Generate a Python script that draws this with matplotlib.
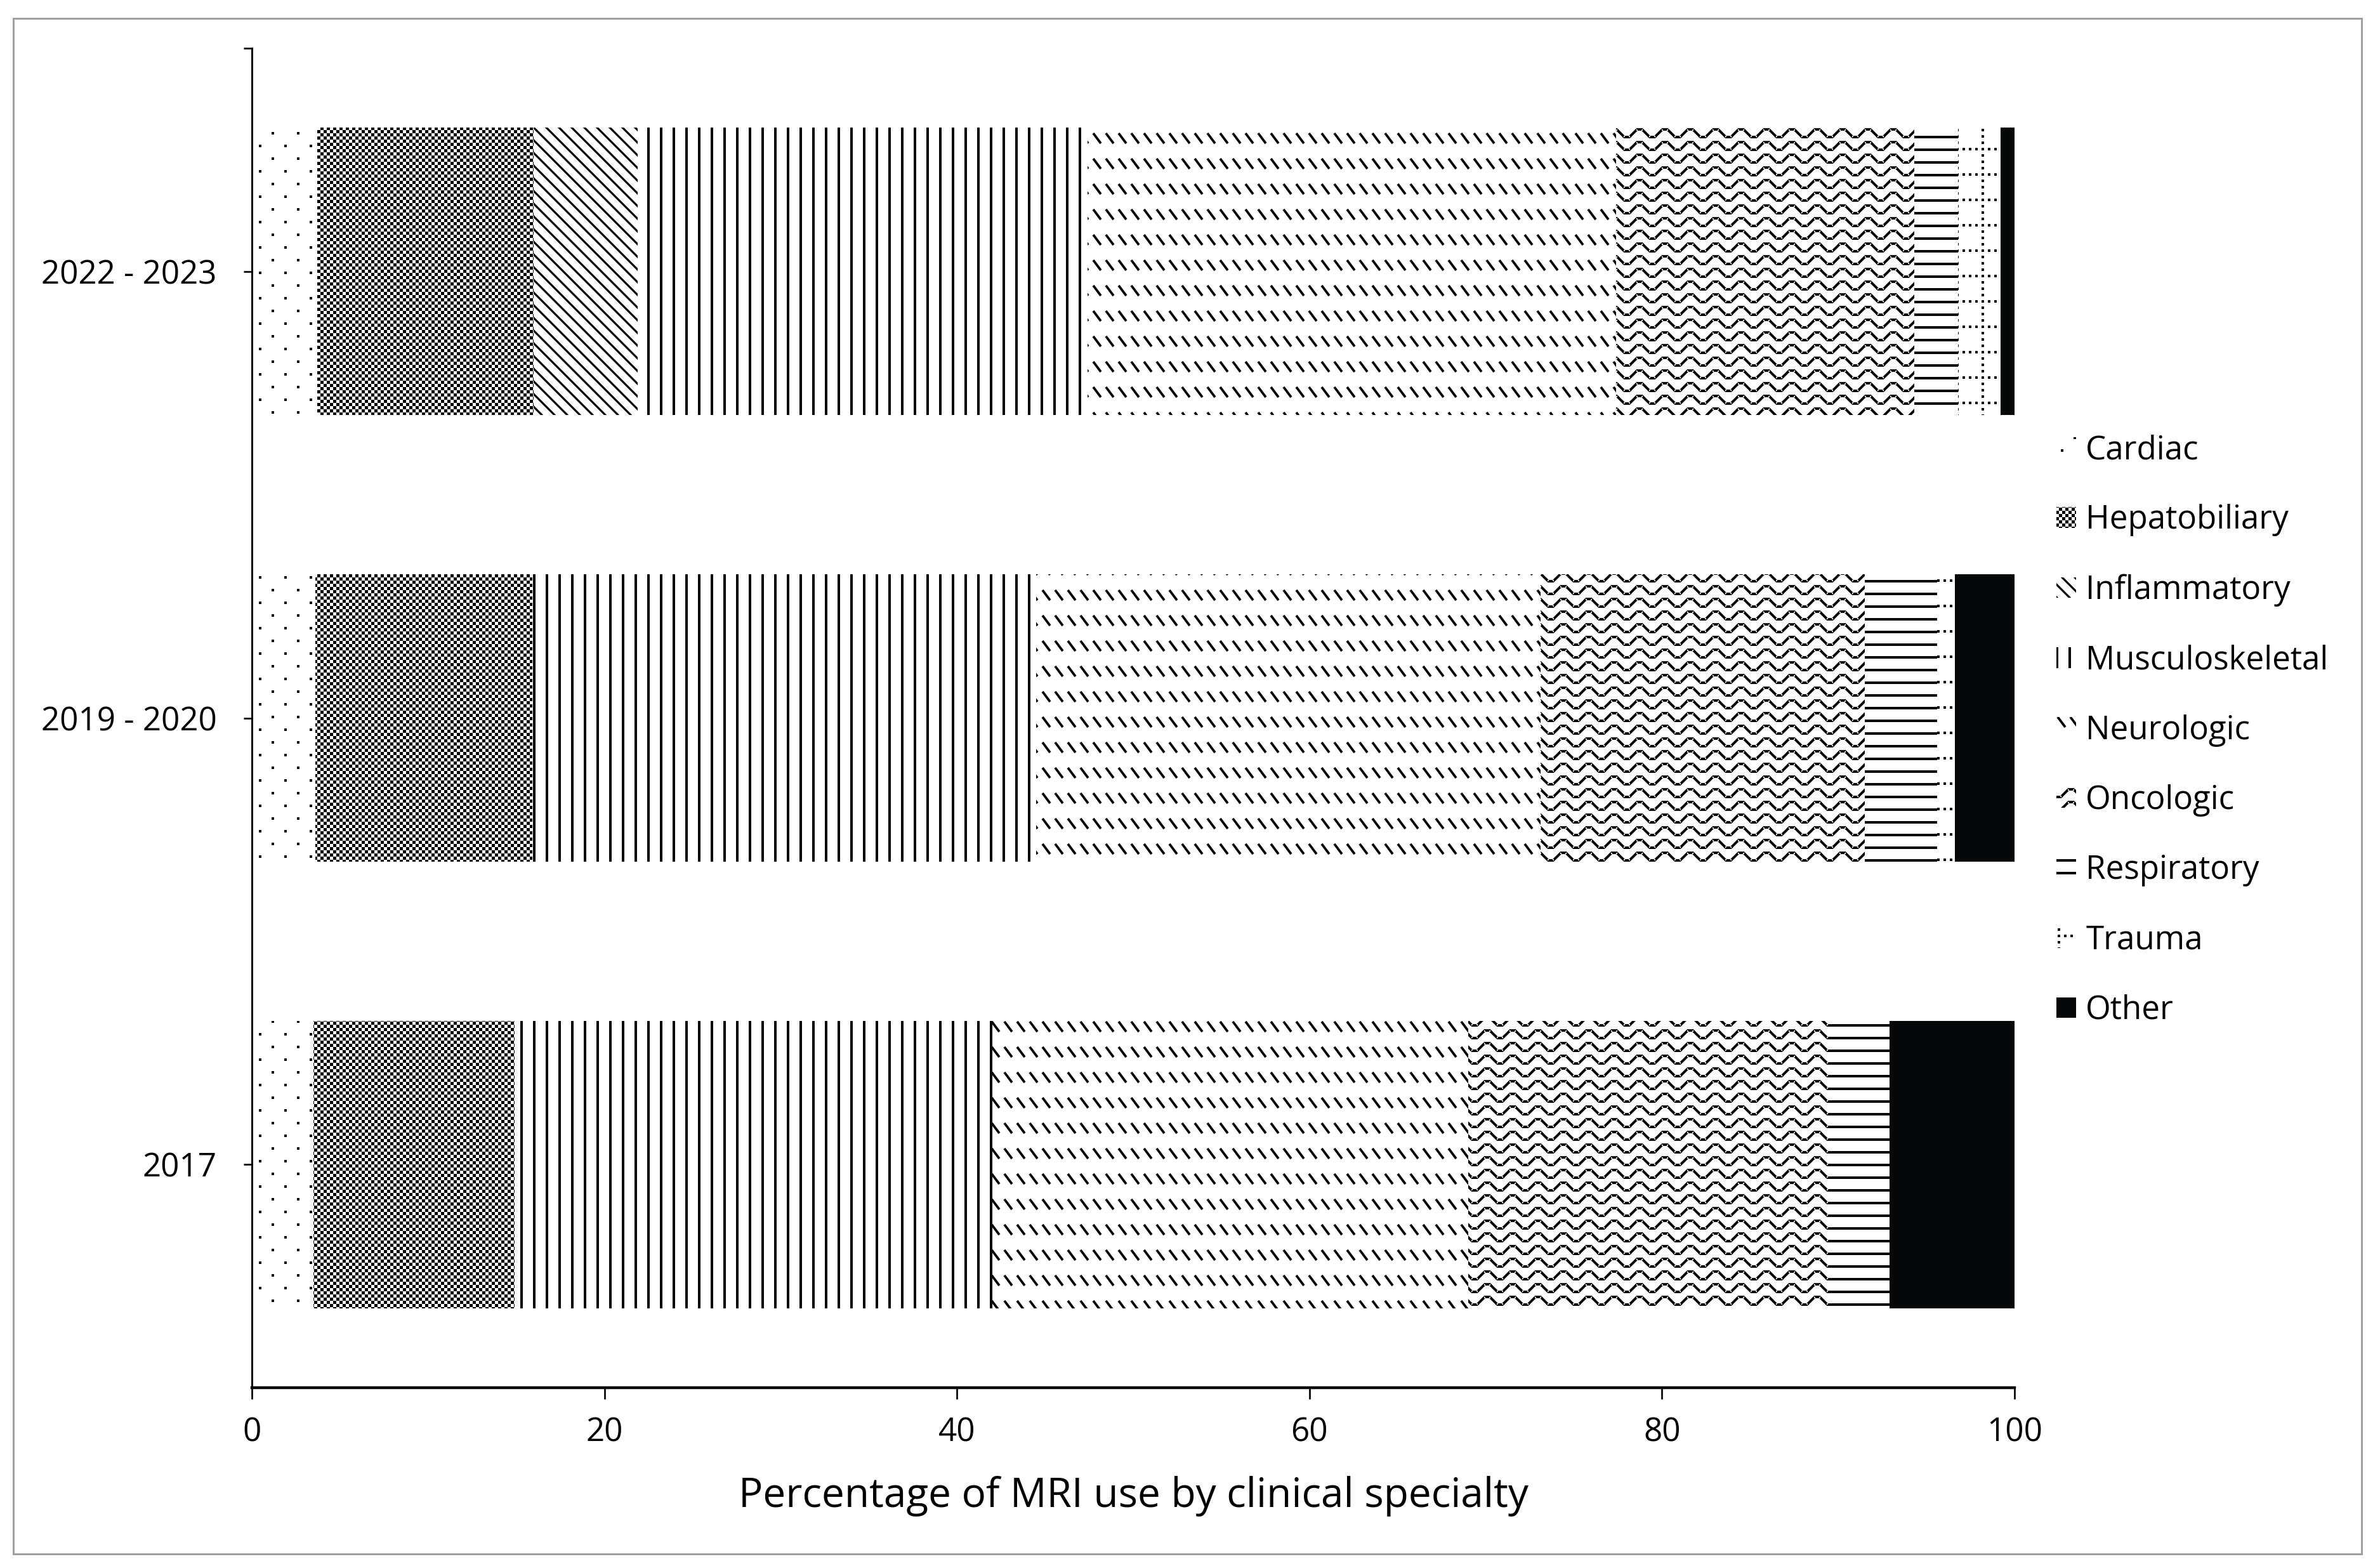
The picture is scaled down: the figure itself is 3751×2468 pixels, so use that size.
import numpy as np
import matplotlib
matplotlib.use("Agg")
import matplotlib.pyplot as plt
import matplotlib.hatch as mhatch
from matplotlib.path import Path
from matplotlib.patches import Rectangle

# ---------------- data ----------------
categories = ["2017", "2019 - 2020", "2022 - 2023"]
specialties = ["Cardiac", "Hepatobiliary", "Inflammatory", "Musculoskeletal",
               "Neurologic", "Oncologic", "Respiratory", "Trauma", "Other"]
cardiac = [3.5, 3.6, 3.7]
hepatobiliary = [11.4, 12.3, 12.3]
inflammatory = [0.0, 0.0, 5.9]
musculoskeletal = [27.1, 28.6, 25.5]
neurologic = [27.0, 28.6, 30.0]
oncologic = [20.6, 18.4, 16.9]
respiratory = [3.3, 4.1, 2.5]
trauma = [0.0, 1.0, 2.4]
other = [7.1, 3.4, 0.8]
xticks = [0, 20, 40, 60, 80, 100]
xlabel = "Percentage of MRI use by clinical specialty"

series = [cardiac, hepatobiliary, inflammatory, musculoskeletal, neurologic,
          oncologic, respiratory, trauma, other]

# ---------------- custom fill patterns (Excel-like) ----------------
DPI = 80
TILE = float(DPI)  # Agg hatch tile is dpi pixels square


def _rect(x, y, w, h):
    return [(x, y), (x + w, y), (x + w, y + h), (x, y + h), (x, y)]


def _seg(x0, y0, x1, y1, t):
    dx, dy = x1 - x0, y1 - y0
    L = np.hypot(dx, dy)
    nx, ny = -dy / L * t / 2, dx / L * t / 2
    return [(x0 + nx, y0 + ny), (x1 + nx, y1 + ny), (x1 - nx, y1 - ny),
            (x0 - nx, y0 - ny), (x0 + nx, y0 + ny)]


def pat_dots():
    out = []
    for k in range(4):
        for j in range(-1, 3):
            out.append(_rect(8 + 40 * j + 20 * (k % 2), 8 + 20 * k, 4, 4))
    return out


def pat_checker():
    out = []
    for i in range(16):
        for j in range(16):
            if (i + j) % 2 == 0:
                out.append(_rect(5 * i, 5 * j, 5, 5))
    return out


def pat_wide_diag():
    out = []
    for c in range(-40, 201, 20):
        out.append(_seg(c - 120, 120, c + 40, -40, 3.2))
    return out


def pat_vertical():
    return [_rect(20 * i, -2, 4, 84) for i in range(4)]


def pat_dashed_diag():
    out = []
    for k in range(-1, 3):
        for j in range(-1, 5):
            x0 = 20 * j + 3
            y0 = 30 + 40 * k
            out.append(_seg(x0, y0, x0 + 12, y0 - 16, 3.8))
    return out


def pat_wave():
    out = []
    t = 4.0
    for k in range(-1, 5):
        b = 4 + 20 * k
        for j in range(-1, 3):
            x = 40 * j
            out.append(_rect(x - 1, b - t / 2, 10, t))
            out.append(_seg(x + 8, b, x + 20, b + 12, t))
            out.append(_rect(x + 19, b + 12 - t / 2, 10, t))
            out.append(_seg(x + 28, b + 12, x + 40, b, t))
    return out


def pat_horizontal():
    return [_rect(-2, 20 * k + 2, 84, 4) for k in range(4)]


def pat_dotted_grid():
    out = []
    for a in range(0, 80, 40):
        for s in range(0, 80, 10):
            out.append(_rect(a + 3, s + 3, 4, 4))
            if s % 40 != 0:
                out.append(_rect(s + 3, a + 3, 4, 4))
    return out


PATTERNS = {
    ".": pat_dots(),
    "x": pat_checker(),
    "\\": pat_wide_diag(),
    "|": pat_vertical(),
    "/": pat_dashed_diag(),
    "o": pat_wave(),
    "-": pat_horizontal(),
    "+": pat_dotted_grid(),
}


class ExcelPattern(mhatch.HatchPatternBase):
    def __init__(self, hatch, density):
        self.polys = PATTERNS.get(hatch, [])
        self.num_vertices = sum(len(p) for p in self.polys)

    def set_vertices_and_codes(self, vertices, codes):
        i = 0
        for p in self.polys:
            n = len(p)
            vertices[i:i + n] = np.asarray(p, dtype=float) / TILE
            codes[i] = Path.MOVETO
            codes[i + 1:i + n - 1] = Path.LINETO
            codes[i + n - 1] = Path.CLOSEPOLY
            i += n


mhatch._hatch_types[:] = [ExcelPattern]

hatches = [".", "x", "\\", "|", "/", "o", "-", "+", None]
facecolors = ["white"] * 8 + ["#050708"]

# ---------------- figure ----------------
plt.rcParams["hatch.linewidth"] = 0.0
plt.rcParams["font.family"] = ["Open Sans", "DejaVu Sans"]

W, H = 3751, 2468
fig = plt.figure(figsize=(W / DPI, H / DPI), dpi=DPI)
fig.patch.set_facecolor("white")

ax = fig.add_axes([397 / W, 1 - 2187 / H, (3175 - 397) / W, (2187 - 76) / H])

ypos = np.arange(len(categories))
left = np.zeros(len(categories))
for name, vals, h, fc in zip(specialties, series, hatches, facecolors):
    ax.barh(ypos, vals, left=left, height=0.644, color=fc, hatch=h,
            edgecolor="black", linewidth=0, label=name)
    left = left + np.asarray(vals)

ax.set_xlim(0, 100)
ax.set_ylim(-0.5, 2.5)
ax.set_xticks(xticks)
ax.set_xticklabels([str(v) for v in xticks])
ax.set_yticks(ypos)
ax.set_yticklabels(categories)
ax.set_yticks([2.5], minor=True)

for s in ["top", "right"]:
    ax.spines[s].set_visible(False)
ax.spines["left"].set_linewidth(2.7)
ax.spines["bottom"].set_linewidth(4.0)

ax.tick_params(axis="y", which="major", direction="out", length=11.7, width=2.4,
               pad=38, labelsize=46, colors="black")
ax.tick_params(axis="y", which="minor", direction="out", length=11.7, width=2.4)
ax.tick_params(axis="x", which="major", direction="out", length=16, width=2.4,
               pad=25, labelsize=46, colors="black")

fig.text(1786 / W, 1 - 2358 / H, xlabel, ha="center", va="center", fontsize=57.5)

leg = fig.legend(loc="center left", bbox_to_anchor=(3241 / W, 1 - 1151 / H),
                 bbox_transform=fig.transFigure, frameon=False, fontsize=46,
                 handlelength=0.6, handleheight=0.6, handletextpad=0.3,
                 labelspacing=1.16, borderpad=0, borderaxespad=0)

frame = Rectangle((21 / W, 1 - 2449 / H), (3722 - 21) / W, (2449 - 29) / H,
                  transform=fig.transFigure, fill=False, edgecolor="#a0a0a0",
                  linewidth=2.7)
fig.patches.append(frame)

fig.savefig("out.png", dpi=DPI, facecolor="white")
